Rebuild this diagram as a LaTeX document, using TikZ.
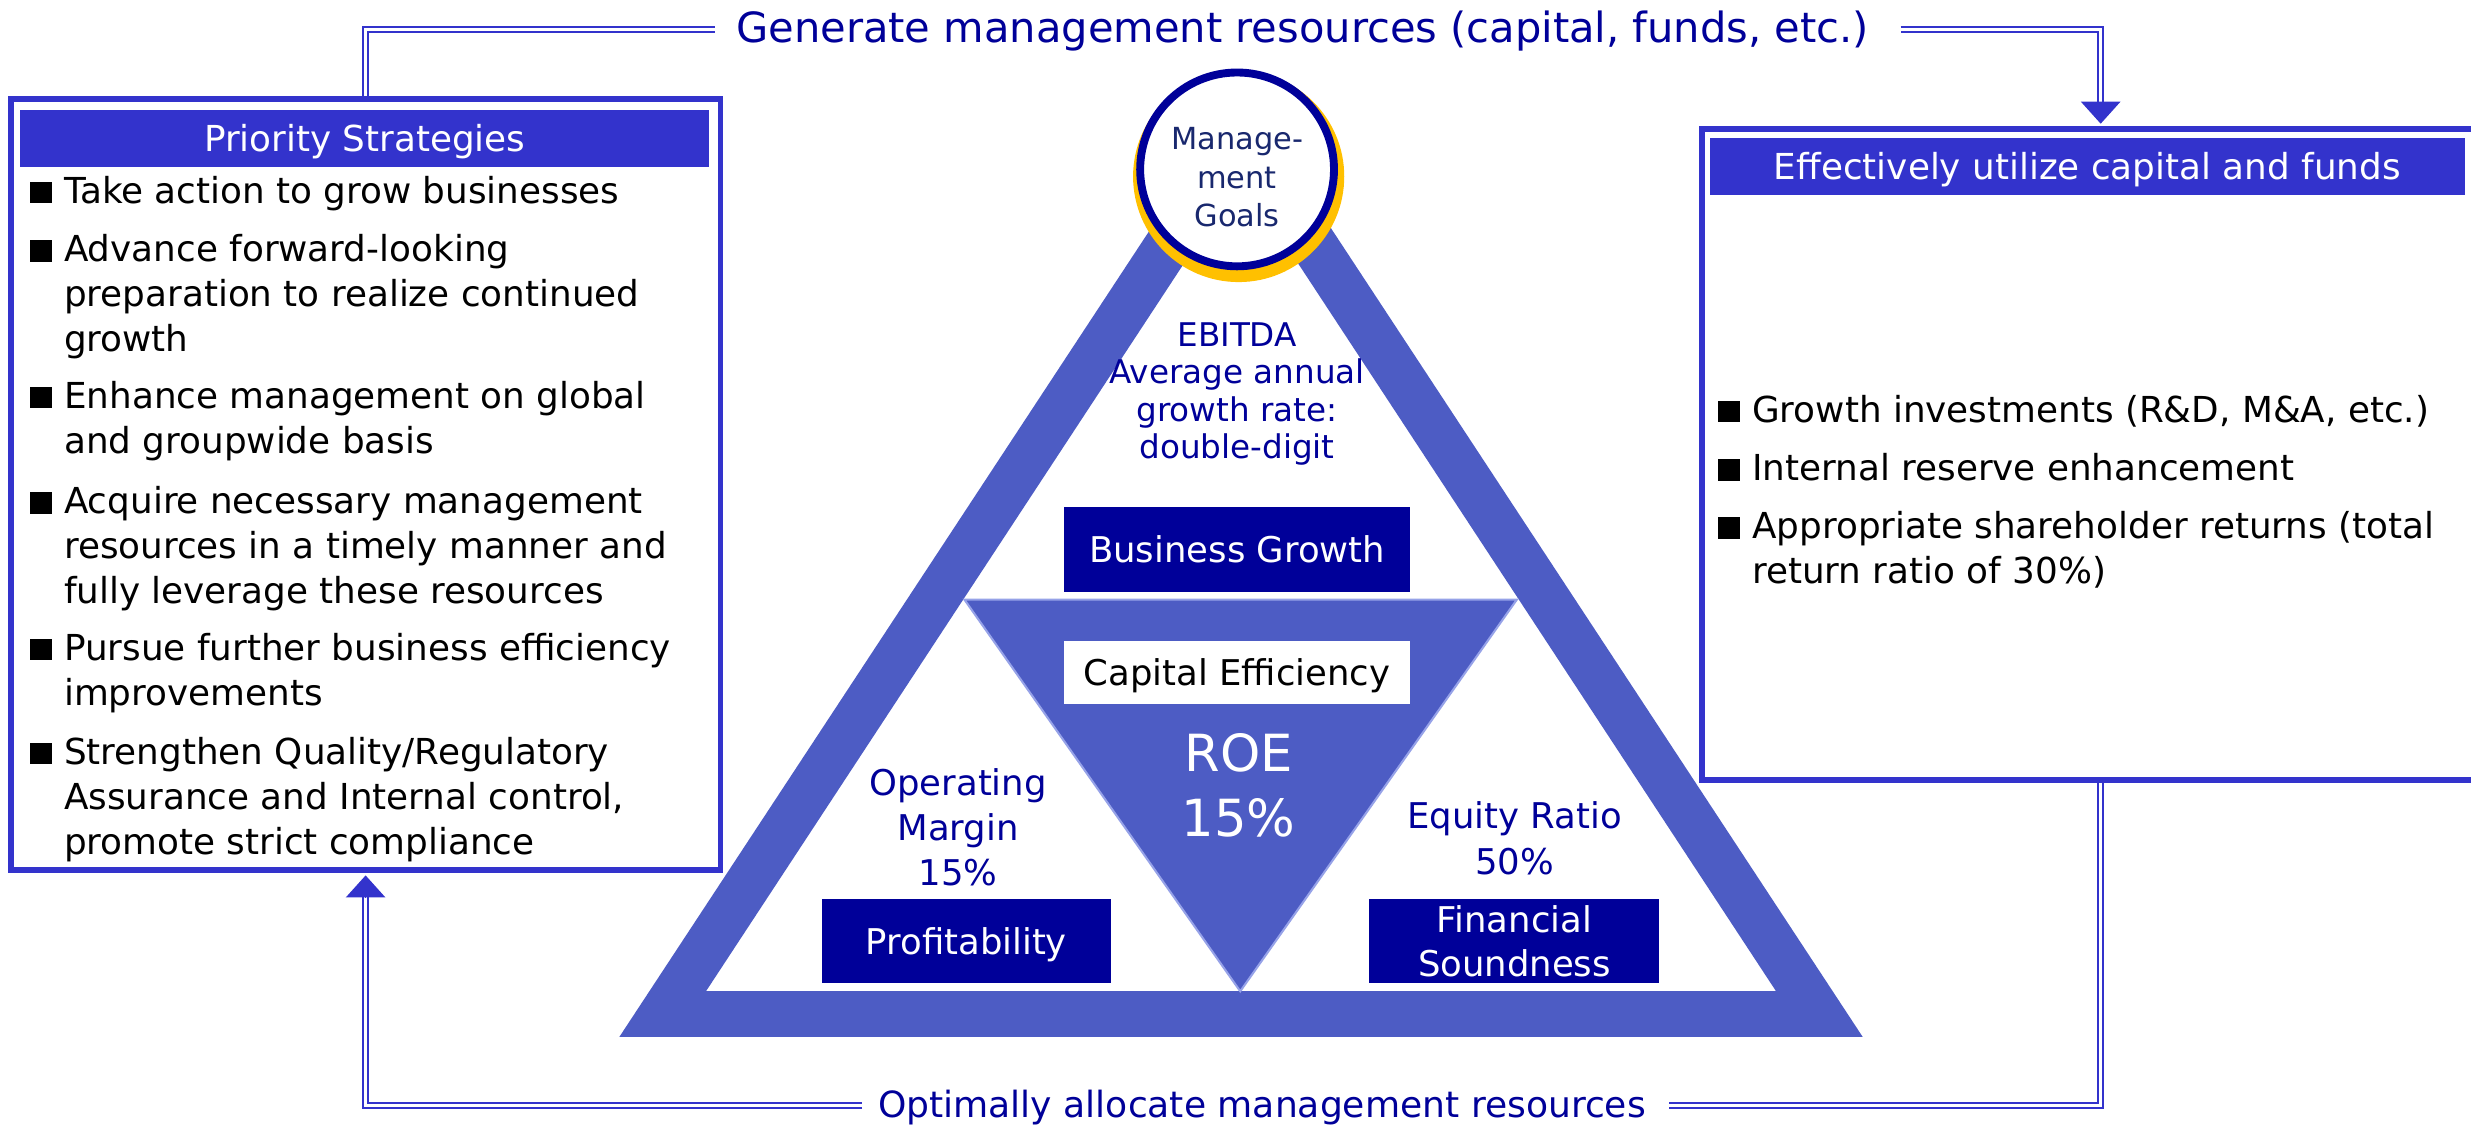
\documentclass[tikz,border=0pt]{standalone}
\usepackage{fontspec}
\setmainfont{DejaVu Sans}
\usetikzlibrary{arrows.meta,calc}

\definecolor{frameblue}{RGB}{51,51,204}
\definecolor{navy}{RGB}{0,0,153}
\definecolor{triblue}{RGB}{77,92,196}
\definecolor{edgeblue}{RGB}{150,162,232}
\definecolor{gold}{RGB}{255,192,0}
\definecolor{goalink}{RGB}{25,40,110}

\newcommand{\fsz}[2]{\fontsize{#1}{#2}\selectfont}
\newcommand{\bsq}{\makebox[21.7pt][l]{\rule{13.7pt}{13.7pt}}}

\tikzset{
  frame/.style={draw=frameblue, line width=3.6pt, fill=white, inner sep=0pt},
  hdr/.style={fill=frameblue, text=white, inner sep=0pt, font=\fsz{22.7}{28},
              text height=16.5pt, text depth=0pt},
  item/.style={anchor=base west, inner sep=0pt, font=\fsz{22.7}{28.5}},
  darkbox/.style={fill=navy, text=white, inner sep=0pt, font=\fsz{22.5}{28},
                  minimum width=220pt, minimum height=53.5pt,
                  text height=16.5pt, text depth=0pt},
  lightbox/.style={fill=white, text=black, inner sep=0pt, font=\fsz{22.5}{28},
                   minimum width=220pt, minimum height=40pt,
                   text height=16.5pt, text depth=0pt},
  metric/.style={anchor=base, inner sep=0pt, text=navy},
  dbl/.style={draw=frameblue, double=white, double distance=2pt, line width=1.1pt},
  tip/.style={draw=frameblue, line width=1pt, -{Triangle[width=25pt,length=14pt]}},
}

\begin{document}
\begin{tikzpicture}[x=1pt,y=-1pt]
\useasboundingbox (0,0) rectangle (1568,714);
\clip (0,0) rectangle (1568,714);
\fill[white] (0,0) rectangle (1568,714);

% ---------- left panel: priority strategies ----------
\node[frame, minimum width=450.4pt, minimum height=489.4pt] (lbox) at (232,307.5) {};
\node[hdr, minimum width=437pt, minimum height=36pt] (lhead) at (231.5,88) {Priority Strategies};

\node[item] (s1) at (18.8,129) {\begin{tabular}[t]{@{}l@{}l@{}}
  \bsq & Take action to grow businesses\end{tabular}};
\node[item] (s2) at (18.8,166) {\begin{tabular}[t]{@{}l@{}l@{}}
  \bsq & Advance forward-looking\\ & preparation to realize continued\\ & growth\end{tabular}};
\node[item] (s3) at (18.8,259) {\begin{tabular}[t]{@{}l@{}l@{}}
  \bsq & Enhance management on global\\ & and groupwide basis\end{tabular}};
\node[item] (s4) at (18.8,326) {\begin{tabular}[t]{@{}l@{}l@{}}
  \bsq & Acquire necessary management\\ & resources in a timely manner and\\ & fully leverage these resources\end{tabular}};
\node[item] (s5) at (18.8,419) {\begin{tabular}[t]{@{}l@{}l@{}}
  \bsq & Pursue further business efficiency\\ & improvements\end{tabular}};
\node[item] (s6) at (18.8,485) {\begin{tabular}[t]{@{}l@{}l@{}}
  \bsq & Strengthen Quality/Regulatory\\ & Assurance and Internal control,\\ & promote strict compliance\end{tabular}};

% ---------- right panel: use of capital ----------
\node[frame, minimum width=520pt, minimum height=413.2pt] (rbox) at (1339.8,288.4) {};
\node[hdr, minimum width=479pt, minimum height=36pt] (rhead) at (1324.5,105.6) {Effectively utilize capital and funds};

\node[item] (u1) at (1090,268) {\begin{tabular}[t]{@{}l@{}l@{}}
  \bsq & Growth investments (R\&D, M\&A, etc.)\end{tabular}};
\node[item] (u2) at (1090,305) {\begin{tabular}[t]{@{}l@{}l@{}}
  \bsq & Internal reserve enhancement\end{tabular}};
\node[item] (u3) at (1090,342) {\begin{tabular}[t]{@{}l@{}l@{}}
  \bsq & Appropriate shareholder returns (total\\ & return ratio of 30\%)\end{tabular}};

% ---------- triangle of management goals ----------
\fill[triblue, even odd rule]
  (393,658) -- (1182,658) -- (787.5,58) -- cycle
  (448,629) -- (1127,629) -- (787.5,112) -- cycle;
\filldraw[fill=triblue, draw=edgeblue, line width=1.3pt, line join=miter]
  (612,380.5) -- (962.5,380.5) -- (787,629) -- cycle;

\fill[gold] (786,112) circle[radius=67];
\draw[navy, line width=5pt, fill=white] (785,107.5) circle[radius=61.5];
\node[anchor=base, inner sep=0pt, text=goalink, font=\fsz{19.3}{24.4}] (goals) at (785,95)
  {\begin{tabular}[t]{@{}c@{}}Manage-\\ment\\Goals\end{tabular}};

\node[metric, font=\fsz{20.7}{23.6}] (ebitda) at (785,220)
  {\begin{tabular}[t]{@{}c@{}}EBITDA\\Average annual\\growth rate:\\double-digit\end{tabular}};
\node[darkbox] (growth) at (785,348.7) {Business Growth};

\node[lightbox] (capeff) at (785,426.7) {Capital Efficiency};
\node[anchor=base, inner sep=0pt, text=white, font=\fsz{32.5}{41}] (roe) at (786,489.5)
  {\begin{tabular}[t]{@{}c@{}}ROE\\15\%\end{tabular}};

\node[metric, font=\fsz{22.5}{28.4}] (opm) at (608,505)
  {\begin{tabular}[t]{@{}c@{}}Operating\\Margin\\15\%\end{tabular}};
\node[darkbox, minimum width=183.5pt] (profit) at (613.2,597.3) {Profitability};

\node[metric, font=\fsz{22.5}{28.7}] (eqr) at (961,526)
  {\begin{tabular}[t]{@{}c@{}}Equity Ratio\\50\%\end{tabular}};
\node[darkbox, minimum width=184pt, text depth=28pt] (sound) at (961,597.3)
  {\begin{tabular}[t]{@{}c@{}}Financial\\Soundness\end{tabular}};

% ---------- cycle of resources ----------
\node[anchor=base west, inner sep=0pt, text=navy, font=\fsz{26.4}{30}] (gen) at (467,27)
  {Generate management resources (capital, funds, etc.)};
\node[anchor=base west, inner sep=0pt, text=navy, font=\fsz{22.9}{28}] (alloc) at (557,709)
  {Optimally allocate management resources};

\coordinate (genL) at (454,18.6);
\coordinate (genR) at (1206,18.6);
\coordinate (allocL) at (547,701.5);
\coordinate (allocR) at (1059,701.5);
\coordinate (rcol) at (1333,0);

\draw[dbl] (lbox.north) |- (genL);
\draw[dbl, shorten >=13pt] (genR) -| (rcol |- rbox.north);
\draw[tip] ($(rcol |- rbox.north)+(0,-15)$) -- ($(rcol |- rbox.north)+(0,-1.5)$);

\draw[dbl] (rcol |- rbox.south) |- (allocR);
\draw[dbl, shorten >=13pt] (allocL) -| (lbox.south);
\draw[tip] ($(lbox.south)+(0,15)$) -- ($(lbox.south)+(0,1.5)$);
\end{tikzpicture}
\end{document}
